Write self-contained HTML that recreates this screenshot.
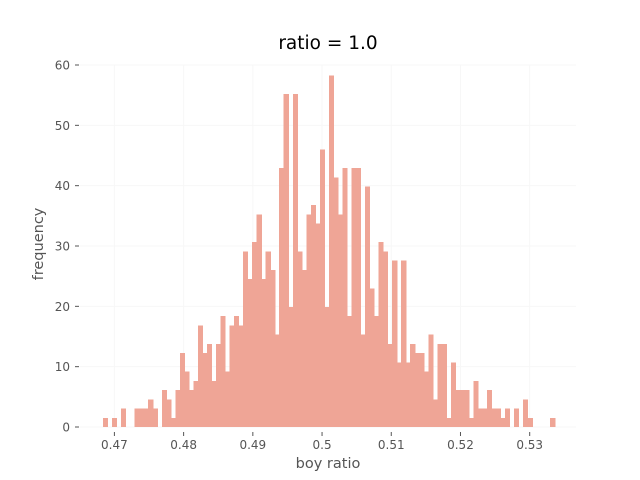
<!DOCTYPE html>
<html><head><meta charset="utf-8"><style>
body{margin:0;background:#fff;}
svg{display:block;font-family:"DejaVu Sans","Liberation Sans",sans-serif;}
</style></head><body>
<svg id="chart" width="640" height="480" viewBox="0 0 640 480">
<text x="328" y="49" text-anchor="middle" font-size="18.5" fill="#000">ratio = 1.0</text>
<text x="328" y="468" text-anchor="middle" font-size="14.5" fill="#555">boy ratio</text>
<text transform="translate(43,244) rotate(-90)" text-anchor="middle" font-size="14.5" fill="#555">frequency</text>
<g id="grid"></g><g id="bars"></g><g id="ticks"></g>
</svg>
<script>
const counts = [1,0,1,0,2,0,0,2,2,2,3,2,0,4,3,1,4,8,6,4,5,11,8,9,5,9,12,6,11,
12,11,19,16,20,23,16,19,17,10,28,36,13,36,19,17,23,24,22,30,13,38,27,23,28,12,28,28,10,26,15,12,20,19,9,18,7,18,
7,9,8,8,6,10,3,9,9,1,7,4,4,4,1,5,2,2,4,2,2,1,2,0,2,0,3,1,0,0,0,0,1];
const binStart = 0.468362;
const binEnd = 0.53362;
const xTicks = [0.47,0.48,0.49,0.50,0.51,0.52,0.53];
const xTickLabels = ["0.47","0.48","0.49","0.5","0.51","0.52","0.53"];
const yTicks = [0,10,20,30,40,50,60];

const NS="http://www.w3.org/2000/svg";
const X0=80,X1=576,Y0=427,Y1=65;
const xmin=0.46503,xmax=0.53669,ymin=0,ymax=60;
const sx=v=>X0+(v-xmin)/(xmax-xmin)*(X1-X0);
const sy=v=>Y0-(v-ymin)/(ymax-ymin)*(Y0-Y1);
function mk(t,a,p){const e=document.createElementNS(NS,t);for(const k in a)e.setAttribute(k,a[k]);p.appendChild(e);return e;}
const grid=document.getElementById('grid'),bars=document.getElementById('bars'),ticks=document.getElementById('ticks');
const total=counts.reduce((a,b)=>a+b,0);
const w=(binEnd-binStart)/counts.length;
xTicks.forEach((v,i)=>{
  const g=mk('line',{x1:sx(v),x2:sx(v),y1:Y1,y2:Y0,stroke:'#f7f7f7','stroke-width':1},grid);
  
  
  const t=mk('line',{x1:sx(v),x2:sx(v),y1:Y0+5,y2:Y0+9,stroke:'#555','stroke-width':1},ticks);
  
  
  const l=mk('text',{x:sx(v),y:Y0+22,'text-anchor':'middle','font-size':12,fill:'#555'},ticks);
  l.textContent=xTickLabels[i];
  
  
});
yTicks.forEach(v=>{
  const g=mk('line',{x1:X0,x2:X1,y1:sy(v),y2:sy(v),stroke:'#f7f7f7','stroke-width':1},grid);
  
  
  const t=mk('line',{x1:X0-5,x2:X0-1,y1:sy(v),y2:sy(v),stroke:'#555','stroke-width':1},ticks);
  
  
  const l=mk('text',{x:X0-10,y:sy(v)+4.5,'text-anchor':'end','font-size':12,fill:'#555'},ticks);
  l.textContent=v;
  
  
});
counts.forEach((c,i)=>{
  if(!c)return;
  const d=c/(total*w);
  const xa=sx(binStart+i*w),xb=sx(binStart+(i+1)*w);
  const r=mk('rect',{x:xa,y:sy(d),width:xb-xa+0.6,height:sy(0)-sy(d),fill:'#efa596','shape-rendering':'crispEdges'},bars);
  
  
});
</script>
</body></html>
